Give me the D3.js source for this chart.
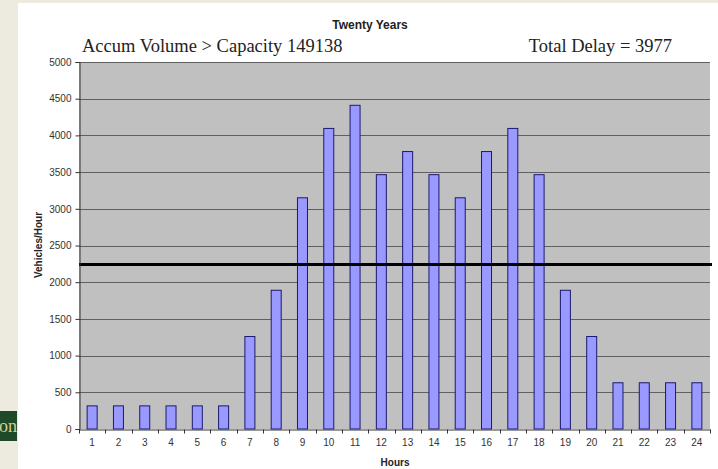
<!DOCTYPE html>
<html>
<head>
<meta charset="utf-8">
<script src="https://cdn.jsdelivr.net/npm/d3@7"></script>
<style>
  html, body { margin: 0; padding: 0; background: #edebe0; }
  #chart { width: 718px; height: 469px; }
</style>
</head>
<body>
<div id="chart"></div>
<script>
// Twenty Years - hourly volume vs capacity
const hours = ["1","2","3","4","5","6","7","8","9","10","11","12","13","14","15","16","17","18","19","20","21","22","23","24"];
const volumes = [315, 315, 315, 315, 315, 315, 1260, 1890, 3150, 4095, 4410, 3465, 3780, 3465, 3150, 3780, 4095, 3465, 1890, 1260, 630, 630, 630, 630];
const capacity = 2240;
const yTicks = [0, 500, 1000, 1500, 2000, 2500, 3000, 3500, 4000, 4500, 5000];

const W = 718, H = 469;
const plot = { left: 79, top: 62, right: 710, bottom: 429 };

const svg = d3.select("#chart")
    .append("svg")
    .attr("width", W)
    .attr("height", H);

// slide background + white chart area
svg.append("rect").attr("width", W).attr("height", H).attr("fill", "#edebe0");
svg.append("rect").attr("x", 18).attr("y", 3).attr("width", W - 18).attr("height", H - 3).attr("fill", "#ffffff");

// green slide tab bottom-left
svg.append("rect").attr("x", 0).attr("y", 411).attr("width", 17).attr("height", 30).attr("fill", "#1e4a2a");
svg.append("text")
    .attr("x", 17)
    .attr("y", 432)
    .attr("text-anchor", "end")
    .attr("fill", "#d8cf8a")
    .attr("font-family", "Liberation Serif, Times New Roman, serif")
    .attr("font-size", "18px")
    .text("on");

const x = d3.scaleBand()
    .domain(hours)
    .range([plot.left, plot.right])
    .padding(0);

const y = d3.scaleLinear()
    .domain([0, 5000])
    .range([plot.bottom, plot.top]);

// plot background
svg.append("rect")
    .attr("x", plot.left)
    .attr("y", plot.top)
    .attr("width", plot.right - plot.left)
    .attr("height", plot.bottom - plot.top)
    .attr("fill", "#c0c0c0");

// gridlines
svg.append("g")
    .selectAll("line")
    .data(yTicks.filter(d => d > 0))
    .enter()
    .append("line")
    .attr("x1", plot.left)
    .attr("x2", plot.right)
    .attr("y1", d => Math.round(y(d)) + 0.5)
    .attr("y2", d => Math.round(y(d)) + 0.5)
    .attr("stroke", "#606060")
    .attr("stroke-width", 1);

// bars
const barW = 10;
svg.selectAll(".bar")
    .data(volumes)
    .enter()
    .append("rect")
    .attr("class", "bar")
    .attr("x", (d, i) => x(hours[i]) + x.bandwidth() / 2 - barW / 2)
    .attr("y", d => y(d))
    .attr("width", barW)
    .attr("height", d => y(0) - y(d))
    .attr("fill", "#9999ff")
    .attr("stroke", "#1a1a6e")
    .attr("stroke-width", 1);

// capacity line
svg.append("line")
    .attr("x1", plot.left)
    .attr("x2", plot.right + 2)
    .attr("y1", y(capacity))
    .attr("y2", y(capacity))
    .attr("stroke", "#000")
    .attr("stroke-width", 3);

// y axis
const yAxis = svg.append("g")
    .attr("transform", `translate(${plot.left + 0.5},0)`)
    .call(d3.axisLeft(y).tickValues(yTicks).tickFormat(d3.format("d")).tickSize(4).tickPadding(4));
yAxis.select(".domain").attr("stroke", "#333");
yAxis.selectAll(".tick line").attr("stroke", "#333");
yAxis.selectAll("text")
    .attr("fill", "#333")
    .attr("font-family", "Liberation Sans, Arial, sans-serif")
    .attr("font-size", "10px");

// x axis (ticks at category boundaries)
const xAxis = svg.append("g")
    .attr("transform", `translate(0,${plot.bottom + 0.5})`)
    .call(d3.axisBottom(x).tickSize(0).tickPadding(9));
xAxis.select(".domain").attr("stroke", "#333");
xAxis.selectAll("text")
    .attr("fill", "#333")
    .attr("font-family", "Liberation Sans, Arial, sans-serif")
    .attr("font-size", "10px");
xAxis.selectAll(".boundary")
    .data(hours.concat(["end"]))
    .enter()
    .append("line")
    .attr("class", "boundary")
    .attr("x1", (d, i) => Math.round(plot.left + i * x.step()) + 0.5)
    .attr("x2", (d, i) => Math.round(plot.left + i * x.step()) + 0.5)
    .attr("y1", 0)
    .attr("y2", 4)
    .attr("stroke", "#333");

// titles
svg.append("text")
    .attr("x", 370)
    .attr("y", 29)
    .attr("text-anchor", "middle")
    .attr("font-family", "Liberation Sans, Arial, sans-serif")
    .attr("font-weight", "bold")
    .attr("font-size", "12px")
    .attr("fill", "#222")
    .text("Twenty Years");

svg.append("text")
    .attr("x", 82)
    .attr("y", 52)
    .attr("font-family", "Liberation Serif, Times New Roman, serif")
    .attr("font-size", "18.5px")
    .attr("fill", "#222")
    .text("Accum Volume > Capacity 149138");

svg.append("text")
    .attr("x", 672)
    .attr("y", 52)
    .attr("text-anchor", "end")
    .attr("font-family", "Liberation Serif, Times New Roman, serif")
    .attr("font-size", "18.5px")
    .attr("fill", "#222")
    .text("Total Delay = 3977");

svg.append("text")
    .attr("x", 395)
    .attr("y", 466)
    .attr("text-anchor", "middle")
    .attr("font-family", "Liberation Sans, Arial, sans-serif")
    .attr("font-weight", "bold")
    .attr("font-size", "10px")
    .attr("fill", "#222")
    .text("Hours");

svg.append("text")
    .attr("transform", "rotate(-90)")
    .attr("x", -245)
    .attr("y", 42)
    .attr("text-anchor", "middle")
    .attr("font-family", "Liberation Sans, Arial, sans-serif")
    .attr("font-weight", "bold")
    .attr("font-size", "10px")
    .attr("fill", "#222")
    .text("Vehicles/Hour");
</script>
</body>
</html>
